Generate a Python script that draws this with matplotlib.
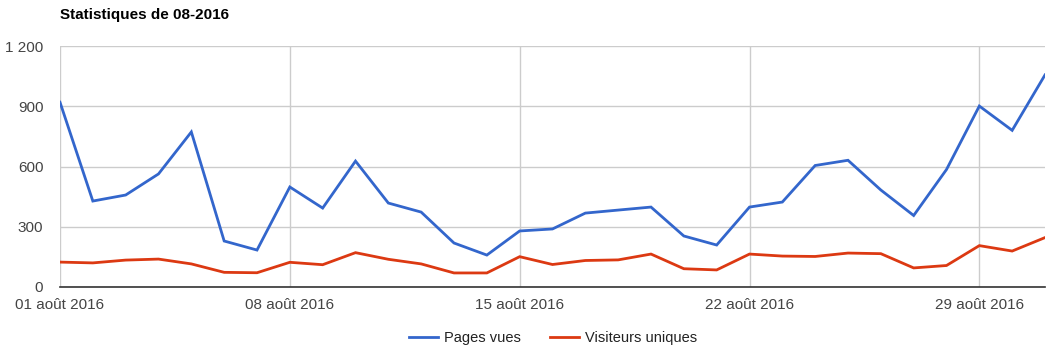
import matplotlib.pyplot as plt

plt.rcParams['font.family'] = ['Liberation Sans', 'DejaVu Sans']

days = list(range(1, 32))
pages_vues = [920, 428, 458, 563, 772, 229, 184, 498, 393, 627, 418, 373, 219, 159, 279, 289,
              368, 383, 398, 254, 209, 398, 423, 605, 631, 483, 356, 585, 901, 780, 1056]
visiteurs = [124, 120, 134, 139, 115, 73, 71, 123, 111, 171, 138, 115, 70, 70, 151, 112,
             132, 135, 164, 91, 85, 164, 154, 152, 169, 166, 95, 107, 206, 179, 246]
tick_days = [1, 8, 15, 22, 29]
tick_labels = ["01 août 2016", "08 août 2016", "15 août 2016", "22 août 2016", "29 août 2016"]
y_ticks = [0, 300, 600, 900, 1200]
y_labels = ["0", "300", "600", "900", "1 200"]

fig = plt.figure(figsize=(10.54, 3.51), dpi=100)
ax = fig.add_axes([60 / 1054, 1 - 287 / 351, 985 / 1054, 241 / 351])

ax.plot(days, pages_vues, color="#3366cc", lw=2, label="Pages vues", solid_joinstyle="miter")
ax.plot(days, visiteurs, color="#dc3912", lw=2, label="Visiteurs uniques", solid_joinstyle="miter")

ax.set_xlim(1, 31)
ax.set_ylim(0, 1200)
ax.set_xticks(tick_days)
ax.set_xticklabels(tick_labels)
ax.set_yticks(y_ticks)
ax.set_yticklabels(y_labels)
ax.tick_params(length=0, labelsize=11, labelcolor="#444444")
ax.tick_params(axis="x", pad=8)
ax.tick_params(axis="y", pad=12)
ax.grid(True, color="#cccccc", lw=1)
ax.set_axisbelow(True)
for s in ["top", "right", "left"]:
    ax.spines[s].set_visible(False)
ax.spines["bottom"].set_color("#333333")
ax.spines["bottom"].set_linewidth(1.2)
ax.spines["bottom"].set_zorder(3)

fig.text(60 / 1054, 1 - 19 / 351, "Statistiques de 08-2016", fontsize=11, fontweight="bold",
         color="black", ha="left", va="baseline")

fig.legend(loc="center", bbox_to_anchor=(0.525, 1 - 338 / 351), ncol=2, frameon=False,
           fontsize=10.5, handlelength=2.0, columnspacing=2.0, handletextpad=0.4,
           labelcolor="#222222")

fig.savefig("out.png", dpi=100)
